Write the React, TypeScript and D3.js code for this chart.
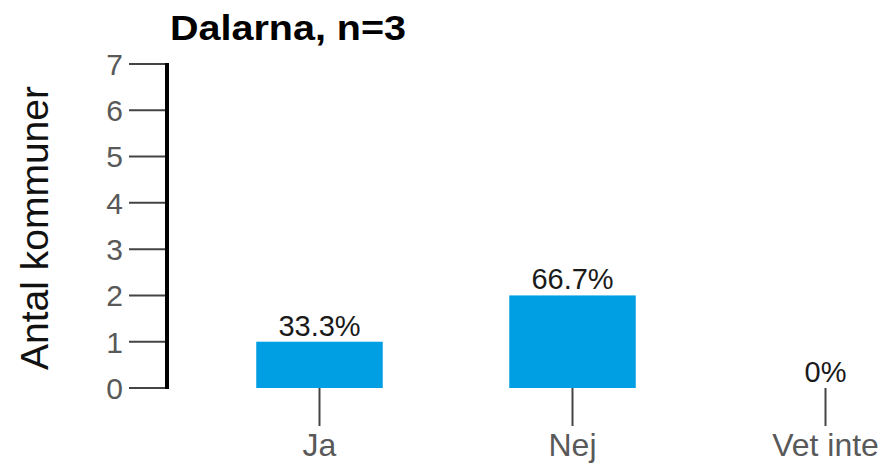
import React from "react";
import * as d3 from "d3";

const categories = ["Ja", "Nej", "Vet inte"];
const counts = [1, 2, 0];
const percentLabels = ["33.3%", "66.7%", "0%"];
const yTicks = [0, 1, 2, 3, 4, 5, 6, 7];
const title = "Dalarna, n=3";
const yTitle = "Antal kommuner";

const W = 884;
const H = 466;
const FONT = "'Liberation Sans', Arial, sans-serif";

export default function App() {
  const x = d3.scaleBand<string>().domain(categories).range([193, 952]).paddingInner(0.5).paddingOuter(0.25);
  const y = d3.scaleLinear().domain([0, 7]).range([388, 64]);
  const axisX = 167;

  return (
    <svg width={W} height={H} style={{ position: "absolute", left: 0, top: 0 }} fontFamily={FONT}>
      <rect width={W} height={H} fill="#fff" />
      <text x={170} y={40} fontSize={35} fontWeight="bold" fill="#000" textLength={236} lengthAdjust="spacingAndGlyphs">{title}</text>
      <text transform={`translate(48,228) rotate(-90)`} textAnchor="middle" fontSize={39} fill="#111">{yTitle}</text>
      {yTicks.map((t) => (
        <g key={t}>
          <line x1={129} x2={axisX} y1={y(t)} y2={y(t)} stroke="#444" strokeWidth={2} />
          <text x={123} y={y(t)} dy="0.36em" textAnchor="end" fontSize={30} fill="#595959">{t}</text>
        </g>
      ))}
      <line x1={axisX} x2={axisX} y1={y(7) - 1} y2={y(0) + 1} stroke="#000" strokeWidth={4} />
      {categories.map((c, i) => {
        const cx = (x(c) as number) + x.bandwidth() / 2;
        return (
          <g key={c}>
            {counts[i] > 0 && (
              <rect x={x(c)} width={x.bandwidth()} y={y(counts[i])} height={y(0) - y(counts[i])} fill="#009fe3" />
            )}
            <line x1={cx} x2={cx} y1={y(0)} y2={426} stroke="#444" strokeWidth={2} />
            <text x={cx} y={456} textAnchor="middle" fontSize={32} fill="#595959">{c}</text>
            <text x={cx} y={y(counts[i]) - 6} textAnchor="middle" fontSize={29} fill="#1a1a1a">{percentLabels[i]}</text>
          </g>
        );
      })}
    </svg>
  );
}
